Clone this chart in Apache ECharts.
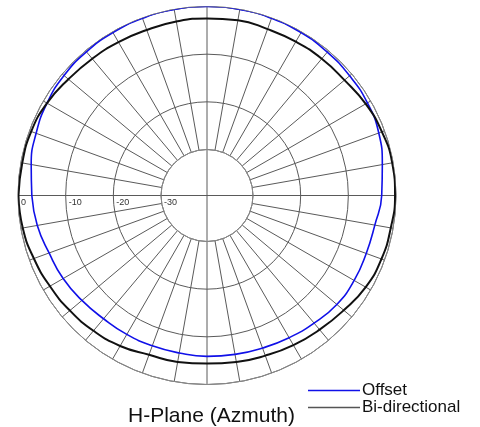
<!DOCTYPE html>
<html>
<head>
<meta charset="utf-8">
<script src="https://cdn.jsdelivr.net/npm/echarts@6/dist/echarts.min.js"></script>
<style>html,body{margin:0;padding:0;background:#fff;}#c{width:480px;height:427px;}</style>
</head>
<body>
<div id="c"></div>
<script>
// angle convention: 0 = left (west), 90 = top, 180 = right, 270 = bottom
const angles = [0,10,20,30,40,50,60,70,80,90,100,110,120,130,140,150,160,170,180,190,200,210,220,230,240,250,260,270,280,290,300,310,320,330,340,350,360];
const offset = [-2.9,-2.2,-1.5,-0.9,-0.5,-0.3,-0.2,-0.1,0,0,0,-0.1,-0.2,-0.4,-0.6,-0.8,-1.3,-2.3,-3.0,-3.9,-4.1,-4.0,-4.1,-4.7,-5.2,-5.6,-5.8,-5.9,-6.1,-6.1,-6.0,-5.9,-5.4,-4.8,-4.4,-3.5,-2.9];
const bidirectional = [-0.1,-0.3,-0.4,-0.9,-1.7,-2.2,-2.5,-2.7,-2.6,-2.5,-2.3,-2.5,-2.4,-2.2,-2.0,-1.2,-0.6,-0.2,-0.2,-0.5,-0.7,-1.2,-2.2,-2.9,-3.4,-3.9,-4.2,-4.4,-4.2,-4.1,-3.2,-2.6,-2.1,-1.6,-1.0,-0.4,-0.1];
const radialTicks = [-30,-20,-10,0];
const seriesNames = ['Offset','Bi-directional'];
const titleText = 'H-Plane (Azmuth)';

const toData = vals => vals.map((v,i)=>[v, angles[i]]);
const chart = echarts.init(document.getElementById('c'));
const gridColor = '#5a5a5a';
const legendText = {fontFamily:'Liberation Sans, Arial',fontSize:17,color:'#111',padding:[0,0,0,-3]};
chart.setOption({
  animation:false,
  backgroundColor:'#fff',
  title:{text:titleText,left:123,top:401,textStyle:{fontFamily:'Liberation Sans, Arial',fontSize:21,fontWeight:'normal',color:'#111'}},
  legend:[
    {orient:'vertical',left:303,top:377,itemWidth:52,itemHeight:1.5,icon:'rect',textStyle:legendText,data:[seriesNames[0]]},
    {orient:'vertical',left:303,top:394,itemWidth:52,itemHeight:1.5,icon:'rect',textStyle:legendText,data:[seriesNames[1]]}
  ],
  polar:[
    {center:[207,195.5],radius:[46,189]},
    {center:[207,195.5],radius:[0,46]}
  ],
  angleAxis:[
    {polarIndex:0,type:'value',min:0,max:360,interval:10,startAngle:180,clockwise:true,
     axisLine:{show:true,lineStyle:{color:'#8a8a8a',width:1}},axisTick:{show:false},axisLabel:{show:false},
     splitLine:{show:true,lineStyle:{color:gridColor,width:1}}},
    {polarIndex:1,type:'value',min:0,max:360,interval:90,startAngle:180,clockwise:true,
     axisLine:{show:false},axisTick:{show:false},axisLabel:{show:false},
     splitLine:{show:true,lineStyle:{color:gridColor,width:1}}}
  ],
  radiusAxis:[
    {polarIndex:0,type:'value',min:radialTicks[0],max:radialTicks[radialTicks.length-1],interval:10,
     axisLine:{show:false},axisTick:{show:false},
     axisLabel:{show:true,fontSize:9,color:'#333',fontFamily:'Liberation Sans, Arial',align:'left',verticalAlign:'top',margin:3,padding:[0,0,0,3]},
     splitLine:{show:true,lineStyle:{color:gridColor,width:1}}},
    {polarIndex:1,type:'value',min:0,max:1,show:false}
  ],
  series:[
    {name:seriesNames[0],type:'line',coordinateSystem:'polar',polarIndex:0,smooth:true,symbol:'none',
     lineStyle:{color:'#1010e8',width:1.6},itemStyle:{color:'#1010e8'},data:toData(offset)},
    {name:seriesNames[1],type:'line',coordinateSystem:'polar',polarIndex:0,smooth:true,symbol:'none',
     lineStyle:{color:'#111',width:2},itemStyle:{color:'#555'},data:toData(bidirectional)}
  ]
});
</script>
</body>
</html>
